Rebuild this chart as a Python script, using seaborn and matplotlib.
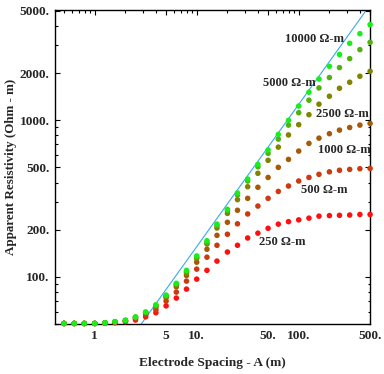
import matplotlib
matplotlib.use("Agg")
import matplotlib.pyplot as plt
import matplotlib.ticker as mtick
import pandas as pd
import seaborn as sns

# electrode spacing A (m)
spacing = [0.5, 0.63, 0.79, 1.0, 1.26, 1.58, 2.0, 2.51, 3.16, 3.98, 5.01,
           6.31, 7.94, 10.0, 12.6, 15.8, 20.0, 25.1, 31.6, 39.8, 50.1, 63.1,
           79.4, 100.0, 126.0, 158.0, 200.0, 251.0, 316.0, 398.0, 501.0]

rho_250 = [50.4, 50.4, 50.4, 50.4, 50.7, 50.9, 51.7, 53.0, 55.6, 59.0, 65.3,
           73.2, 83.5, 96.7, 110, 126, 144, 159, 177, 190, 204, 217, 225, 231,
           237, 244, 246, 247, 248, 250, 250]
rho_500 = [50.4, 50.4, 50.4, 50.4, 50.8, 51.2, 52.1, 54.0, 57.3, 61.6, 70.0,
           79.9, 93.9, 112, 133.5, 159, 187, 218, 252, 283, 317, 351, 380, 409,
           431, 451, 468, 479, 485, 490, 492]
rho_1000 = [50.4, 50.4, 50.4, 50.4, 50.8, 51.4, 52.4, 54.8, 58.5, 63.9, 73.5,
            86.4, 102, 124, 150, 184, 223, 266, 317, 373, 431, 500, 562, 635,
            711, 768, 820, 864, 898, 930, 953]
rho_2500 = [50.4, 50.4, 50.4, 50.4, 50.9, 51.6, 52.6, 55.1, 59.2, 65.3, 75.1,
            88.9, 106, 131, 162, 205, 254, 311, 376, 458, 554, 673, 805, 936,
            1084, 1265, 1422, 1599, 1746, 1907, 2051]
rho_5000 = [50.4, 50.4, 50.4, 50.4, 50.9, 51.7, 52.8, 55.3, 59.4, 65.8, 75.7,
            90.0, 108, 133.5, 166, 213, 265, 333, 409, 504, 614, 757, 930, 1116,
            1341, 1606, 1871, 2166, 2472, 2820, 3140]
rho_10000 = [50.4, 50.4, 50.4, 50.4, 50.9, 51.8, 52.8, 55.4, 59.6, 66.3, 76.5,
             90.9, 110, 136, 170, 217, 270, 343, 421, 522, 646, 811, 997, 1231,
             1508, 1830, 2208, 2625, 3094, 3566, 4076]

# limiting line
line_a = [2.86, 456]
line_rho = [50, 5000]

series_names = ["250", "500", "1000", "2500", "5000", "10000"]
series_values = [rho_250, rho_500, rho_1000, rho_2500, rho_5000, rho_10000]
series_colors = ["#ff1010", "#cc3a10", "#a65a08", "#808400", "#52b010", "#18ee18"]

label_text = ["250 Ω-m", "500 Ω-m", "1000 Ω-m", "2500 Ω-m", "5000 Ω-m", "10000 Ω-m"]
label_x = [68.4, 176.7, 277.7, 270, 81.9, 142.6]
label_y = [166, 360, 644, 1097, 1728, 3281]

x_ticks = [1, 5, 10, 50, 100, 500]
x_ticklabels = ["1", "5", "10.", "50.", "100.", "500."]
y_ticks = [100, 200, 500, 1000, 2000, 5000]
y_ticklabels = ["100.", "200.", "500.", "1000.", "2000.", "5000."]

rows = []
for name, vals in zip(series_names, series_values):
    for a, r in zip(spacing, vals):
        rows.append({"spacing": a, "rho": r, "model": name})
df = pd.DataFrame(rows)

sns.set_style("white")
plt.rcParams["font.family"] = ["Liberation Serif", "DejaVu Serif"]
plt.rcParams["font.weight"] = "bold"

fig = plt.figure(figsize=(3.84, 3.74), dpi=100)
ax = fig.add_axes([55 / 384, 50 / 374, 315 / 384, 314 / 374])

sns.lineplot(x=line_a, y=line_rho, color="#38aaf0", lw=0.8, ax=ax)
sns.scatterplot(data=df, x="spacing", y="rho", hue="model",
                hue_order=series_names, palette=series_colors,
                s=16, linewidth=0, legend=False, ax=ax, clip_on=False, zorder=3)

ax.set_xscale("log")
ax.set_yscale("log")
ax.set_xlim(0.408, 500)
ax.set_ylim(50, 5050)

for t, x, y in zip(label_text, label_x, label_y):
    ax.text(x, y, t, ha="center", va="center", fontsize=9, fontweight="bold")

ax.xaxis.set_major_locator(mtick.FixedLocator(x_ticks))
ax.xaxis.set_major_formatter(mtick.FixedFormatter(x_ticklabels))
ax.xaxis.set_minor_locator(mtick.LogLocator(subs=range(2, 10)))
ax.xaxis.set_minor_formatter(mtick.NullFormatter())
ax.yaxis.set_major_locator(mtick.FixedLocator(y_ticks))
ax.yaxis.set_major_formatter(mtick.FixedFormatter(y_ticklabels))
ax.yaxis.set_minor_locator(mtick.LogLocator(subs=range(2, 10)))
ax.yaxis.set_minor_formatter(mtick.NullFormatter())

ax.tick_params(which="both", direction="in", top=True, right=True,
               bottom=False, left=True, labelsize=9.6, width=0.8, color="black")
ax.tick_params(which="major", length=3.5, pad=4)
ax.tick_params(which="minor", length=1.8)
for lab in ax.get_xticklabels() + ax.get_yticklabels():
    lab.set_fontweight("bold")

for sp in ax.spines.values():
    sp.set_visible(True)
    sp.set_color("black")
    sp.set_linewidth(1.0)

ax.set_xlabel("Electrode Spacing - A (m)", fontsize=9.6, fontweight="bold", labelpad=11)
ax.set_ylabel("Apparent Resistivity (Ohm - m)", fontsize=9.4, fontweight="bold", labelpad=2)

fig.savefig("out.png", dpi=100)
